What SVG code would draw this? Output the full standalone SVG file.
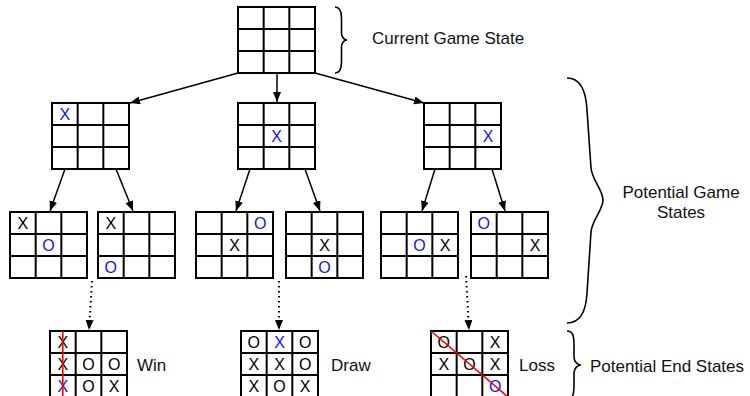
<svg xmlns="http://www.w3.org/2000/svg" xmlns:xlink="http://www.w3.org/1999/xlink" width="750" height="396" viewBox="0 0 750 396">
<style>
.g{fill:#fff;stroke:#000;stroke-width:2}
.gl{stroke:#000;stroke-width:2}
.m{font-family:"Liberation Sans",Arial,sans-serif;font-size:16px;text-anchor:middle}
.k{fill:#000}
.b{fill:#1010ff}
.lab{font-family:"Liberation Sans",Arial,sans-serif;font-size:17px;fill:#111}
.arr{stroke:#000;stroke-width:1.5;fill:none;marker-end:url(#ah)}
.dot{stroke:#000;stroke-width:2;fill:none;stroke-dasharray:1.5 3.5;marker-end:url(#ah)}
.brace{stroke:#000;stroke-width:1.6;fill:none}
.red{stroke:#ff0000;stroke-width:1.6}
</style>
<defs>
<marker id="ah" markerUnits="userSpaceOnUse" markerWidth="11" markerHeight="9" refX="10" refY="4" orient="auto">
<path d="M0,0 L10,4 L0,8 z" fill="#000"/>
</marker>
<g id="grid">
<rect class="g" x="0" y="0" width="77" height="66"/>
<line class="gl" x1="25.67" y1="0" x2="25.67" y2="66"/>
<line class="gl" x1="51.33" y1="0" x2="51.33" y2="66"/>
<line class="gl" x1="0" y1="22" x2="77" y2="22"/>
<line class="gl" x1="0" y1="44" x2="77" y2="44"/>
</g>
</defs>
<rect width="750" height="396" fill="#fff"/>

<g id="connectors">
<line class="arr" x1="238" y1="73" x2="130" y2="103"/>
<line class="arr" x1="277" y1="73" x2="277" y2="102"/>
<line class="arr" x1="315" y1="73" x2="424" y2="103"/>
<line class="arr" x1="65" y1="169" x2="50" y2="211"/>
<line class="arr" x1="116" y1="169" x2="133" y2="211"/>
<line class="arr" x1="250" y1="169" x2="236" y2="211"/>
<line class="arr" x1="305" y1="169" x2="320" y2="211"/>
<line class="arr" x1="435" y1="169" x2="422" y2="211"/>
<line class="arr" x1="492" y1="169" x2="505" y2="211"/>
<line class="dot" x1="92" y1="281" x2="89" y2="330"/>
<line class="dot" x1="279" y1="281" x2="279" y2="330"/>
<line class="dot" x1="466" y1="276" x2="469" y2="330"/>
</g>

<g id="root">
<use xlink:href="#grid" x="238" y="7"/>
</g>

<g id="s1">
<use xlink:href="#grid" x="52" y="103"/>
<text class="m b" x="64.8" y="119.8">X</text>
</g>
<g id="s2">
<use xlink:href="#grid" x="238" y="103"/>
<text class="m b" x="276.5" y="141.8">X</text>
</g>
<g id="s3">
<use xlink:href="#grid" x="424" y="103"/>
<text class="m b" x="488.2" y="141.8">X</text>
</g>

<g id="s11">
<use xlink:href="#grid" x="10" y="212"/>
<text class="m k" x="22.8" y="228.8">X</text>
<text class="m b" x="48.5" y="250.8">O</text>
</g>
<g id="s12">
<use xlink:href="#grid" x="98" y="212"/>
<text class="m k" x="110.8" y="228.8">X</text>
<text class="m b" x="110.8" y="272.8">O</text>
</g>
<g id="s21">
<use xlink:href="#grid" x="196" y="212"/>
<text class="m b" x="260.2" y="228.8">O</text>
<text class="m k" x="234.5" y="250.8">X</text>
</g>
<g id="s22">
<use xlink:href="#grid" x="286" y="212"/>
<text class="m k" x="324.5" y="250.8">X</text>
<text class="m b" x="324.5" y="272.8">O</text>
</g>
<g id="s31">
<use xlink:href="#grid" x="381" y="212"/>
<text class="m b" x="419.5" y="250.8">O</text>
<text class="m k" x="445.2" y="250.8">X</text>
</g>
<g id="s32">
<use xlink:href="#grid" x="471" y="212"/>
<text class="m b" x="483.8" y="228.8">O</text>
<text class="m k" x="535.2" y="250.8">X</text>
</g>

<g id="win">
<use xlink:href="#grid" x="50" y="331"/>
<text class="m k" x="62.8" y="347.8">X</text>
<text class="m k" x="62.8" y="369.8">X</text>
<text class="m k" x="88.5" y="369.8">O</text>
<text class="m k" x="114.2" y="369.8">O</text>
<text class="m b" x="62.8" y="391.8">X</text>
<text class="m k" x="88.5" y="391.8">O</text>
<text class="m k" x="114.2" y="391.8">X</text>
<line class="red" x1="62.8" y1="331" x2="62.8" y2="397"/>
<text class="lab" x="137" y="371">Win</text>
</g>

<g id="draw">
<use xlink:href="#grid" x="241" y="331"/>
<text class="m k" x="253.8" y="347.8">O</text>
<text class="m b" x="279.5" y="347.8">X</text>
<text class="m k" x="305.2" y="347.8">O</text>
<text class="m k" x="253.8" y="369.8">X</text>
<text class="m k" x="279.5" y="369.8">X</text>
<text class="m k" x="305.2" y="369.8">O</text>
<text class="m k" x="253.8" y="391.8">X</text>
<text class="m k" x="279.5" y="391.8">O</text>
<text class="m k" x="305.2" y="391.8">X</text>
<text class="lab" x="331" y="371">Draw</text>
</g>

<g id="loss">
<use xlink:href="#grid" x="431" y="331"/>
<text class="m k" x="443.8" y="347.8">O</text>
<text class="m k" x="495.2" y="347.8">X</text>
<text class="m k" x="443.8" y="369.8">X</text>
<text class="m k" x="469.5" y="369.8">O</text>
<text class="m k" x="495.2" y="369.8">X</text>
<text class="m b" x="495.2" y="391.8">O</text>
<line class="red" x1="431" y1="331" x2="508" y2="397"/>
<text class="lab" x="519" y="371">Loss</text>
</g>

<g id="braces">
<path class="brace" d="M335,7 C340,7 341.5,11 341.5,18 L341.5,33 C341.5,37 344,40 347,40 C344,40 341.5,43 341.5,47 L341.5,62 C341.5,69 340,73 335,73"/>
<path class="brace" d="M567,78 C580,78 586,90 587,110 L591,168 C592,180 603,190 603,200 C603,210 592,220 591,232 L587,293 C586,312 580,323 567,323"/>
<path class="brace" d="M567,331 C573,331 574,336 574,345 L574,357 C574,362 578,365 581,365 C578,365 574,368 574,373 L574,385 C574,394 573,399 567,399"/>
</g>

<g id="labels">
<text class="lab" x="372" y="44">Current Game State</text>
<text class="lab" x="681" y="198" text-anchor="middle">Potential Game</text>
<text class="lab" x="681" y="218" text-anchor="middle">States</text>
<text class="lab" x="590" y="372">Potential End States</text>
</g>
</svg>
